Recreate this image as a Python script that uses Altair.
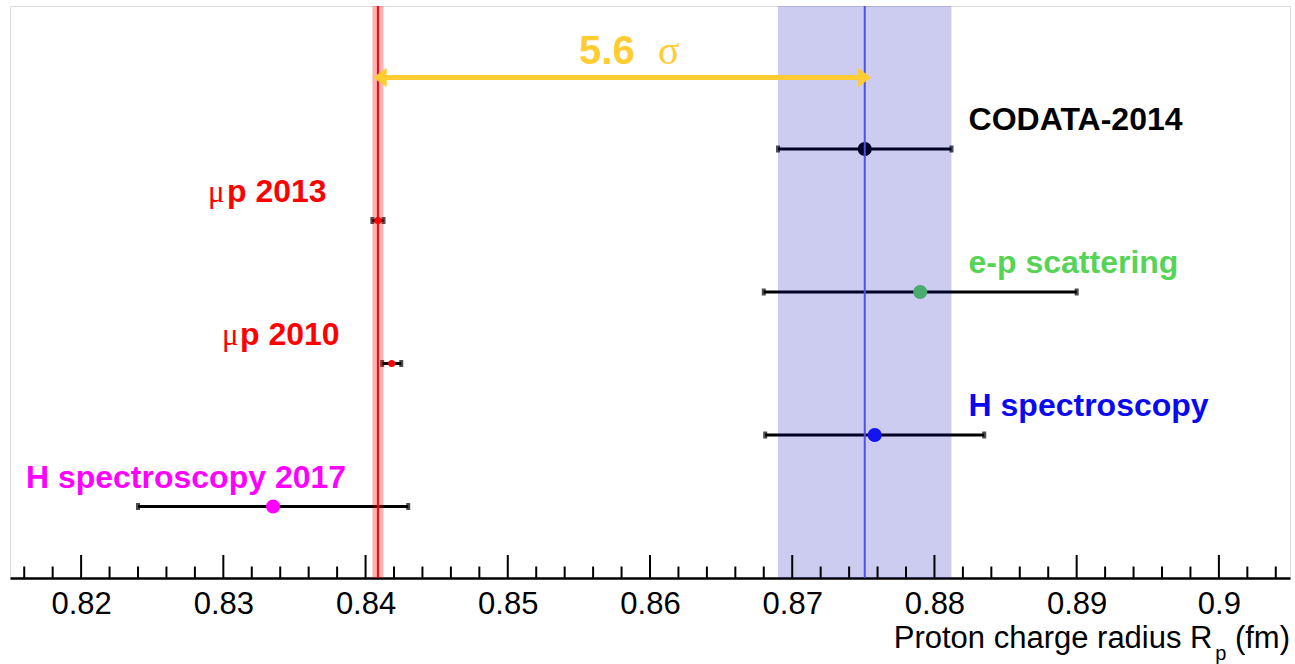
import altair as alt
import pandas as pd
import numpy as np

# ---------------- data ----------------
names = ["H spectroscopy 2017", "H spectroscopy", "μp 2010", "e-p scattering", "μp 2013", "CODATA-2014"]
rows = [1, 2, 3, 4, 5, 6]
radius = [0.8335, 0.8758, 0.84184, 0.879, 0.84087, 0.8751]
errors = [0.0095, 0.0077, 0.00067, 0.011, 0.00039, 0.0061]
major_ticks = [0.82, 0.83, 0.84, 0.85, 0.86, 0.87, 0.88, 0.89, 0.90]
muonic_band = [0.84087, 0.00039]
codata_band = [0.8751, 0.0061]
arrow_row = 7
sigma_text = ["5.6", "σ"]

# ---------------- styles ----------------
point_colors = ["#ff00ff", "#1a1aff", "#ff0000", "#5cd65c", "#ff0000", "#000000"]
point_sizes = [200, 200, 50, 200, 50, 200]
FONT = "Liberation Sans"
SERIF = "Liberation Serif"
W, H = 1280, 572
XD = [0.815, 0.905]

df = pd.DataFrame({"name": names, "row": rows, "r": radius, "e": errors,
                   "color": point_colors, "size": point_sizes})
df["lo"] = df["r"] - df["e"]
df["hi"] = df["r"] + df["e"]

xs = alt.Scale(domain=XD, nice=False, zero=False)
ys = alt.Scale(domain=[0, 8], nice=False, zero=False)

xaxis = alt.Axis(values=major_ticks, format=".2~f", ticks=False, grid=False,
                 domainColor="black", domainWidth=2.5, labelFont=FONT,
                 labelFontSize=31, labelColor="black", labelPadding=11, title=None,
                 labelFlush=False)

base = alt.Chart(df)

bars = base.mark_rule(color="black", strokeWidth=3).encode(
    x=alt.X("lo:Q", scale=xs, axis=xaxis), x2="hi:Q",
    y=alt.Y("row:Q", scale=ys, axis=None))
caps_lo = base.mark_tick(orient="vertical", size=7, thickness=4, color="black").encode(
    x=alt.X("lo:Q", scale=xs), y=alt.Y("row:Q", scale=ys))
caps_hi = base.mark_tick(orient="vertical", size=7, thickness=4, color="black").encode(
    x=alt.X("hi:Q", scale=xs), y=alt.Y("row:Q", scale=ys))
points = base.mark_circle(opacity=1).encode(
    x=alt.X("r:Q", scale=xs), y=alt.Y("row:Q", scale=ys),
    color=alt.Color("color:N", scale=None), size=alt.Size("size:Q", scale=None))

bands_df = pd.DataFrame({
    "c": [codata_band[0], muonic_band[0]],
    "w": [codata_band[1], muonic_band[1]],
    "fill": ["#0000b8", "#ff0000"],
    "op": [0.2, 0.3],
    "line": ["#5050e6", "#ff0000"],
})
bands_df["lo"] = bands_df["c"] - bands_df["w"]
bands_df["hi"] = bands_df["c"] + bands_df["w"]
bands = alt.Chart(bands_df).mark_rect().encode(
    x=alt.X("lo:Q", scale=xs), x2="hi:Q",
    y=alt.value(0), y2=alt.value(H),
    color=alt.Color("fill:N", scale=None), opacity=alt.Opacity("op:Q", scale=None))
vlines = alt.Chart(bands_df).mark_rule(strokeWidth=2).encode(
    x=alt.X("c:Q", scale=xs), y=alt.value(0), y2=alt.value(H),
    color=alt.Color("line:N", scale=None))

# arrow
arrow_df = pd.DataFrame({"a": [muonic_band[0]], "b": [codata_band[0]], "row": [arrow_row]})
gold = "#ffcc33"
arrow_line = alt.Chart(arrow_df).mark_rule(color=gold, strokeWidth=5).encode(
    x=alt.X("a:Q", scale=xs), x2="b:Q", y=alt.Y("row:Q", scale=ys))
head_l = alt.Chart(arrow_df).mark_point(shape="M -0.5 0 L 0.9 -1 L 0.9 1 Z", filled=True,
                                        color=gold, opacity=1, size=380).encode(
    x=alt.X("a:Q", scale=xs), y=alt.Y("row:Q", scale=ys))
head_r = alt.Chart(arrow_df).mark_point(shape="M 0.65 0 L -0.7 -1 L -0.7 1 Z", filled=True,
                                        color=gold, opacity=1, size=380).encode(
    x=alt.X("b:Q", scale=xs), y=alt.Y("row:Q", scale=ys))
sig_df = pd.DataFrame({"t": sigma_text, "x": [0.85501, 0.86056], "row": [arrow_row, arrow_row]})
sig_num = alt.Chart(sig_df.iloc[[0]]).mark_text(font=FONT, fontWeight="bold", fontSize=40,
                                                 color=gold, align="left", baseline="alphabetic",
                                                 dy=-14).encode(
    x=alt.X("x:Q", scale=xs), y=alt.Y("row:Q", scale=ys), text="t:N")
sig_sym = alt.Chart(sig_df.iloc[[1]]).mark_text(font=SERIF, fontSize=40,
                                                 color=gold, align="left", baseline="alphabetic",
                                                 dy=-14).encode(
    x=alt.X("x:Q", scale=xs), y=alt.Y("row:Q", scale=ys), text="t:N")

# labels
lab_df = pd.DataFrame({
    "t": ["H spectroscopy 2017", "H spectroscopy", "p 2010", "e-p scattering", "p 2013", "CODATA-2014"],
    "row": rows,
    "x": [0.81612, 0.8824, 0.83117, 0.8824, 0.83026, 0.8824],
    "color": ["#ff00ff", "#0a0af0", "#ff0000", "#55d455", "#ff0000", "#000000"],
})
labels = alt.Chart(lab_df).mark_text(font=FONT, fontWeight="bold", fontSize=32, align="left",
                                     baseline="alphabetic", dy=-19).encode(
    x=alt.X("x:Q", scale=xs), y=alt.Y("row:Q", scale=ys), text="t:N",
    color=alt.Color("color:N", scale=None))
mu_df = pd.DataFrame({"t": ["μ", "μ"], "row": [3, 5], "x": [0.82991, 0.82892]})
mus = alt.Chart(mu_df).mark_text(font=SERIF, fontSize=31, align="left", color="#ff0000",
                                 baseline="alphabetic", dy=-19).encode(
    x=alt.X("x:Q", scale=xs), y=alt.Y("row:Q", scale=ys), text="t:N")

# ticks inside plot
minor = [v for v in np.round(np.arange(0.816, 0.9045, 0.002), 3) if round(v * 100, 6) % 1 != 0]
tmaj = alt.Chart(pd.DataFrame({"v": major_ticks})).mark_rule(color="black", strokeWidth=2).encode(
    x=alt.X("v:Q", scale=xs), y=alt.value(H), y2=alt.value(H - 23))
tmin = alt.Chart(pd.DataFrame({"v": minor})).mark_rule(color="black", strokeWidth=2).encode(
    x=alt.X("v:Q", scale=xs), y=alt.value(H), y2=alt.value(H - 11.5))

# axis title pieces
tdf = pd.DataFrame({"t": ["Proton charge radius R", "p", "(fm)"],
                    "x": [0.89955, 0.89975, 0.905]})
title1 = alt.Chart(tdf.iloc[[0]]).mark_text(font=FONT, fontSize=31, align="right",
                                            baseline="alphabetic", color="black").encode(
    x=alt.X("x:Q", scale=xs), y=alt.value(642), text="t:N")
title2 = alt.Chart(tdf.iloc[[1]]).mark_text(font=FONT, fontSize=20, align="left",
                                            baseline="alphabetic", color="black").encode(
    x=alt.X("x:Q", scale=xs), y=alt.value(654), text="t:N")
title3 = alt.Chart(tdf.iloc[[2]]).mark_text(font=FONT, fontSize=31, align="right",
                                            baseline="alphabetic", color="black").encode(
    x=alt.X("x:Q", scale=xs), y=alt.value(642), text="t:N")

chart = alt.layer(
    bars, caps_lo, caps_hi, points, bands, vlines,
    arrow_line, head_l, head_r, sig_num, sig_sym,
    labels, mus, tmaj, tmin, title1, title2, title3
).properties(
    width=W, height=H, autosize="none",
    padding={"left": 10, "top": 6, "right": 5, "bottom": 86}
).configure_view(stroke="black", strokeWidth=2.5).configure(background="white")

chart.save("out.html", embed_options={"renderer": "svg", "actions": False})
